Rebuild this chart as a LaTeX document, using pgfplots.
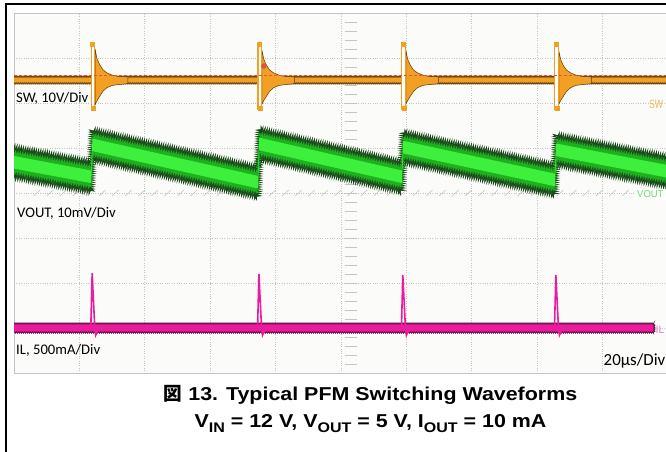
\documentclass[border=0pt]{standalone}
\usepackage{pgfplots}
\pgfplotsset{compat=1.18}
\usetikzlibrary{decorations.pathmorphing}
\usepackage{fontspec}
\setmainfont{Liberation Sans}
\newfontfamily\scopefont{Carlito}
\newfontfamily\capfont{Liberation Sans}[FakeStretch=1.15]
\newfontfamily\cjk{Noto Sans CJK JP}

\definecolor{scrbg}{HTML}{FBFCF9}
\definecolor{gridc}{HTML}{C4C4C4}
\definecolor{swor}{HTML}{F2A024}
\definecolor{swdk}{HTML}{5C3A0E}
\definecolor{swlab}{HTML}{F4B860}
\definecolor{refred}{HTML}{E0563A}
\definecolor{vdk}{HTML}{1E5A1E}
\definecolor{vmid}{HTML}{1FB01F}
\definecolor{vbr}{HTML}{3CF03C}
\definecolor{vlab}{HTML}{66DD66}
\definecolor{ilmg}{HTML}{EE1A9E}
\definecolor{ildk}{HTML}{5A1442}
\definecolor{illab}{HTML}{F07CC4}

\newcommand{\sub}[1]{\raisebox{-0.22em}{\fontsize{14}{14}\selectfont #1}}

\begin{document}
\begin{tikzpicture}[x=1bp,y=1bp]
\useasboundingbox (0,0) rectangle (666,452);
\fill[white] (0,0) rectangle (666,452);

\begin{axis}[
    at={(14bp,79bp)}, anchor=south west,
    width=654bp, height=360bp, scale only axis,
    xmin=0, xmax=10, ymin=0, ymax=8,
    axis background/.style={fill=scrbg},
    axis line style={draw=gridc, line width=0.8bp},
    xtick={1,...,9}, ytick={1,...,7},
    xticklabels={}, yticklabels={},
    major tick length=0pt,
    grid=major,
    grid style={dotted, gridc, line width=0.7bp},
    clip=true
]

% center graticule ticks
\pgfplotsinvokeforeach{0.2,0.4,...,7.8}{
  \draw[gridc, line width=0.6bp] (axis cs:5,#1) ++(-3bp,0) -- ++(6bp,0);
}
\pgfplotsinvokeforeach{0.2,0.4,...,9.8}{
  \draw[gridc, line width=0.6bp] (axis cs:#1,4) ++(0,-3bp) -- ++(0,6bp);
}

% ---------- SW ----------
\addplot[fill=swor, draw=swdk, line width=0.7bp,
  decorate, decoration={zigzag, segment length=2bp, amplitude=0.8bp}]
  coordinates {(-0.1,6.585) (10.1,6.585) (10.1,6.435) (-0.1,6.435)} -- cycle;

% ringing after each switching edge
\addplot[fill=swor, draw=swdk, line width=0.5bp] coordinates {
  (1.24,7.20) (1.27,6.98) (1.31,6.85) (1.36,6.74) (1.42,6.67) (1.50,6.62) (1.60,6.59) (1.74,6.58)
  (1.74,6.43) (1.60,6.41) (1.50,6.39) (1.42,6.34) (1.36,6.26) (1.31,6.15) (1.27,6.05) (1.24,5.96)} -- cycle;
\addplot[fill=swor, draw=swdk, line width=0.5bp] coordinates {
  (3.79,7.18) (3.82,6.97) (3.86,6.84) (3.91,6.73) (3.97,6.67) (4.05,6.62) (4.15,6.59) (4.29,6.58)
  (4.29,6.43) (4.15,6.41) (4.05,6.39) (3.97,6.34) (3.91,6.26) (3.86,6.15) (3.82,6.06) (3.79,5.97)} -- cycle;
\addplot[fill=swor, draw=swdk, line width=0.5bp] coordinates {
  (5.99,7.18) (6.02,6.97) (6.06,6.84) (6.11,6.73) (6.17,6.67) (6.25,6.62) (6.35,6.59) (6.49,6.58)
  (6.49,6.43) (6.35,6.41) (6.25,6.39) (6.17,6.34) (6.11,6.26) (6.06,6.15) (6.02,6.06) (5.99,5.97)} -- cycle;
\addplot[fill=swor, draw=swdk, line width=0.5bp] coordinates {
  (8.33,7.16) (8.36,6.96) (8.40,6.83) (8.45,6.73) (8.51,6.67) (8.59,6.62) (8.69,6.59) (8.83,6.58)
  (8.83,6.43) (8.69,6.41) (8.59,6.39) (8.51,6.34) (8.45,6.26) (8.40,6.15) (8.36,6.06) (8.33,5.97)} -- cycle;

% switching edges (white gap with orange outline)
\addplot[fill=white, draw=swor, line width=1.2bp] coordinates {(1.18,5.86) (1.225,5.86) (1.225,7.31) (1.18,7.31)} -- cycle;
\addplot[fill=white, draw=swor, line width=1.2bp] coordinates {(3.73,5.86) (3.78,5.86) (3.78,7.31) (3.73,7.31)} -- cycle;
\addplot[fill=white, draw=swor, line width=1.2bp] coordinates {(5.93,5.86) (5.98,5.86) (5.98,7.31) (5.93,7.31)} -- cycle;
\addplot[fill=white, draw=swor, line width=1.2bp] coordinates {(8.27,5.86) (8.32,5.86) (8.32,7.31) (8.27,7.31)} -- cycle;
\addplot[only marks, mark=square*, mark size=2bp, color=swor] coordinates {
  (1.20,7.30) (1.21,5.88) (3.75,7.30) (3.76,5.88) (5.95,7.30) (5.96,5.88) (8.29,7.30) (8.30,5.88)};

% trigger reference line and marker
\addplot[refred, dashed, line width=0.7bp, dash pattern=on 3bp off 2bp] coordinates {(0,6.62) (10,6.62)};
\addplot[only marks, mark=*, mark size=2.5bp, color=refred] coordinates {(3.82,6.82)};

% ---------- VOUT ----------
\addplot[fill=vdk, draw=vdk!80!black, line width=0.6bp,
  decorate, decoration={zigzag, segment length=2.2bp, amplitude=3bp}]
  coordinates {
  (-0.1,5.04) (1.18,4.69) (1.20,5.40) (3.73,4.57) (3.75,5.42) (5.93,4.69) (5.95,5.35) (8.27,4.62) (8.29,5.29) (10.1,4.78)
  (10.1,4.12) (8.29,4.63) (8.27,3.96) (5.95,4.69) (5.93,4.03) (3.75,4.76) (3.73,3.91) (1.20,4.74) (1.18,4.03) (-0.1,4.38)} -- cycle;
\addplot[fill=vmid, draw=none,
  decorate, decoration={zigzag, segment length=2.5bp, amplitude=2bp}]
  coordinates {
  (-0.1,4.95) (1.18,4.60) (1.20,5.31) (3.73,4.48) (3.75,5.33) (5.93,4.60) (5.95,5.26) (8.27,4.53) (8.29,5.20) (10.1,4.69)
  (10.1,4.21) (8.29,4.72) (8.27,4.05) (5.95,4.78) (5.93,4.12) (3.75,4.85) (3.73,4.00) (1.20,4.83) (1.18,4.12) (-0.1,4.47)} -- cycle;
\addplot[fill=vbr, draw=none]
  coordinates {
  (-0.1,4.85) (1.18,4.50) (1.20,5.21) (3.73,4.38) (3.75,5.23) (5.93,4.50) (5.95,5.16) (8.27,4.43) (8.29,5.10) (10.1,4.59)
  (10.1,4.31) (8.29,4.82) (8.27,4.15) (5.95,4.88) (5.93,4.22) (3.75,4.95) (3.73,4.10) (1.20,4.93) (1.18,4.22) (-0.1,4.57)} -- cycle;

% ---------- IL ----------
\addplot[fill=ilmg, draw=ildk, line width=0.7bp,
  decorate, decoration={zigzag, segment length=2bp, amplitude=0.8bp}]
  coordinates {(-0.1,1.10) (9.79,1.10) (9.79,0.90) (-0.1,0.90)} -- cycle;
\addplot[ilmg, line width=1.6bp] coordinates {(1.175,1.05) (1.195,2.22) (1.235,1.00) (1.25,0.84) (1.29,0.97)};
\addplot[ilmg, line width=1.6bp] coordinates {(3.725,1.05) (3.745,2.20) (3.785,1.00) (3.80,0.84) (3.84,0.97)};
\addplot[ilmg, line width=1.6bp] coordinates {(5.925,1.05) (5.945,2.18) (5.985,1.00) (6.00,0.84) (6.04,0.97)};
\addplot[ilmg, line width=1.6bp] coordinates {(8.265,1.05) (8.285,2.18) (8.325,1.00) (8.34,0.84) (8.38,0.97)};
\end{axis}

% channel labels
\node[anchor=base west, font=\scopefont\fontsize{14.7}{16}\selectfont, inner sep=0pt] at (16,349) {SW, 10V/Div};
\node[anchor=base west, font=\scopefont\fontsize{14.7}{16}\selectfont, inner sep=0pt] at (17,234) {VOUT, 10mV/Div};
\node[anchor=base west, font=\scopefont\fontsize{14.7}{16}\selectfont, inner sep=0pt] at (16,97) {IL, 500mA/Div};
\node[anchor=base east, font=\scopefont\fontsize{17}{19}\selectfont, inner sep=0pt] at (665.5,86) {20µs/Div};
\node[anchor=base west, text=swlab, inner sep=0pt] at (649,343) {\scalebox{0.72}[1]{\fontsize{12}{14}\selectfont SW}};
\fill[white] (635,252) rectangle (666,263);
\node[anchor=base west, text=vlab, inner sep=0pt] at (637,254) {\scalebox{0.95}[1]{\fontsize{10}{12}\selectfont VOUT}};
\node[anchor=base west, font=\fontsize{10.5}{12}\selectfont, text=illab, inner sep=0pt] at (655.5,118) {IL};

% outer frame
\draw[black, line width=1.3bp] (6,-10) -- (6,448) -- (680,448);

% caption
\node[anchor=base, font=\capfont\bfseries\fontsize{18.7}{22}\selectfont, inner sep=0pt] at (370.5,51.3) {{\cjk 図} 13. Typical PFM Switching Waveforms};
\node[anchor=base, font=\capfont\bfseries\fontsize{18.7}{22}\selectfont, inner sep=0pt] at (370.5,24) {V\sub{IN} = 12 V, V\sub{OUT} = 5 V, I\sub{OUT} = 10 mA};
\end{tikzpicture}
\end{document}
